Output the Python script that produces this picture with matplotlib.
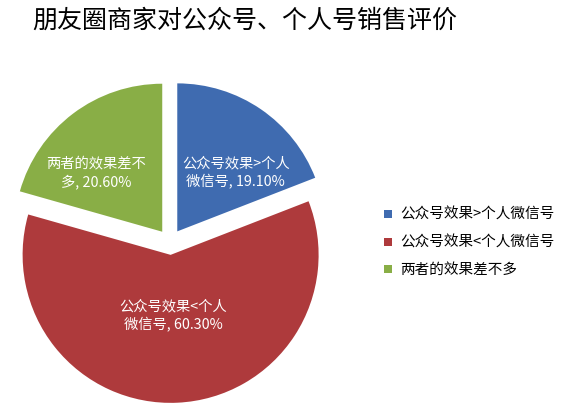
import numpy as np
import matplotlib
matplotlib.use("Agg")
import matplotlib.pyplot as plt

plt.rcParams['font.family'] = ['Noto Sans CJK SC', 'DejaVu Sans']

# ----------------------------
# data
# ----------------------------
title = "朋友圈商家对公众号、个人号销售评价"
categories = ["公众号效果>个人微信号", "公众号效果<个人微信号", "两者的效果差不多"]
label_text = ["公众号效果>个人\n微信号, 19.10%", "公众号效果<个人\n微信号, 60.30%", "两者的效果差不\n多, 20.60%"]
values = [19.10, 60.30, 20.60]
colors = ["#3F6BB0", "#AE3A3C", "#89AE46"]

W, H = 565, 414
fig = plt.figure(figsize=(W / 100, H / 100), dpi=100)

# pie axes placed in pixel coords: centre (170, 243 from top), radius 148 px
cx, cy, r = 170, H - 243, 148
half = 168
ax = fig.add_axes([(cx - half) / W, (cy - half) / H, 2 * half / W, 2 * half / H])
lim = half / r
ax.set_aspect('equal')
ax.axis('off')

wedges, _ = ax.pie(values, colors=colors, startangle=90, counterclock=False,
                   explode=[0.087] * 3, radius=1.0, center=(0, 0), frame=False)
ax.set_xlim(-lim, lim)
ax.set_ylim(-lim, lim)

# data labels
label_pos = [(0.445, 0.475), (0.02, -0.49), (-0.50, 0.475)]
for (x, y), t in zip(label_pos, label_text):
    ax.text(x, y, t, ha='center', va='center', color='white', fontsize=10.3,
            linespacing=1.3)

fig.text(32 / W, 1 - 21 / H, title, ha='left', va='center', fontsize=18,
         fontweight='medium', color='black')

# legend
leg_y = [215, 243, 270]
for name, c, py in zip(categories, colors, leg_y):
    fig.patches.append(plt.Rectangle(((388 - 4) / W, (H - py - 4) / H), 8 / W, 8 / H,
                                     transform=fig.transFigure, facecolor=c,
                                     edgecolor='none'))
    fig.text(400 / W, 1 - py / H, name, ha='left', va='center', fontsize=10.5,
             color='black')

fig.savefig("out.png", dpi=100)
